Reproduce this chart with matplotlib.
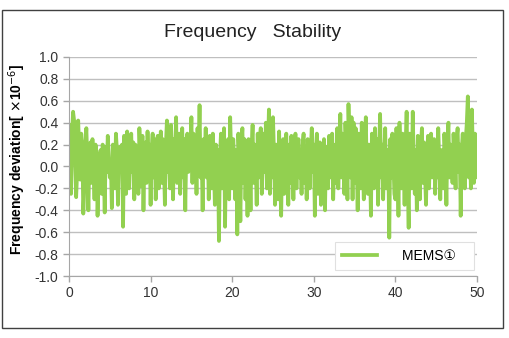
import numpy as np
import matplotlib.pyplot as plt
from matplotlib.patches import Rectangle

plt.rcParams['font.family'] = ['Liberation Sans', 'DejaVu Sans', 'Noto Sans CJK SC']

# frequency deviation (x1e-6), 8 samples per time unit, 40 per row of 5 units
deviation = [
    # 0 - 5
    0.38, 0.10, -0.25, 0.30, 0.50, 0.42, 0.05, -0.28, -0.05, 0.42,
    0.15, -0.12, 0.30, 0.20, -0.43, -0.20, 0.18, 0.35, 0.05, -0.40,
    0.10, 0.22, -0.15, 0.25, 0.00, -0.30, 0.20, 0.12, -0.45, -0.10,
    0.05, 0.15, -0.25, 0.20, 0.00, -0.42, 0.18, -0.05, 0.28, 0.10,
    # 5 - 10
    -0.10, 0.05, -0.38, 0.20, 0.00, -0.20, 0.30, 0.15, -0.35, 0.08,
    0.18, -0.05, 0.20, -0.55, 0.28, 0.12, -0.25, 0.32, 0.10, -0.20,
    0.05, 0.30, -0.05, 0.22, -0.30, 0.20, 0.05, 0.15, -0.25, 0.35,
    0.10, -0.18, 0.28, -0.40, 0.10, 0.22, -0.15, 0.32, 0.00, 0.20,
    # 10 - 15
    -0.35, 0.15, 0.30, -0.10, 0.25, -0.30, 0.00, 0.28, -0.20, 0.10,
    0.32, -0.15, 0.25, 0.05, -0.35, 0.20, 0.42, -0.05, 0.15, -0.20,
    0.38, 0.10, -0.30, 0.25, 0.05, 0.45, -0.15, 0.20, 0.30, -0.25,
    0.05, 0.35, -0.10, 0.25, -0.40, 0.15, 0.30, -0.05, 0.20, 0.10,
    # 15 - 20
    0.45, -0.15, 0.30, 0.05, 0.25, -0.25, 0.35, 0.10, 0.56, -0.10,
    0.15, -0.40, 0.25, 0.05, 0.35, -0.10, 0.20, -0.30, 0.28, 0.10,
    -0.20, 0.30, 0.05, -0.35, 0.20, -0.10, 0.15, -0.68, 0.10, 0.30,
    -0.20, 0.05, 0.35, -0.55, 0.15, -0.10, 0.25, -0.30, 0.45, 0.10,
    # 20 - 25
    -0.20, 0.25, 0.05, -0.30, 0.15, -0.62, 0.30, 0.05, -0.50, 0.20,
    0.35, -0.15, 0.25, -0.30, 0.10, -0.45, 0.25, 0.05, -0.40, 0.15,
    0.38, -0.15, 0.20, 0.05, -0.35, 0.30, -0.10, 0.25, 0.35, -0.25,
    0.10, 0.30, -0.05, 0.40, -0.20, 0.15, 0.52, -0.25, 0.30, -0.10,
    # 25 - 30
    0.45, 0.10, -0.35, 0.20, 0.05, -0.30, 0.32, -0.10, -0.45, 0.15,
    0.25, -0.25, 0.10, 0.30, -0.05, -0.35, 0.20, -0.15, 0.28, 0.05,
    -0.30, 0.10, 0.30, -0.20, 0.15, 0.25, -0.10, 0.05, -0.25, 0.20,
    0.30, -0.15, 0.10, -0.30, 0.25, 0.05, -0.20, 0.15, 0.35, -0.05,
    # 30 - 35
    0.20, -0.45, 0.15, 0.30, -0.25, 0.05, 0.22, -0.35, 0.10, -0.15,
    0.25, -0.40, 0.18, 0.05, -0.20, 0.28, -0.10, 0.15, 0.30, -0.30,
    0.05, 0.20, -0.15, 0.35, -0.20, 0.10, 0.48, -0.10, 0.30, 0.05,
    -0.25, 0.40, 0.15, -0.30, 0.57, 0.20, -0.10, 0.45, -0.30, 0.40,
    # 35 - 40
    -0.15, 0.35, 0.10, -0.40, 0.30, -0.05, -0.20, 0.40, 0.05, -0.30,
    0.25, 0.45, -0.10, -0.25, 0.20, 0.05, -0.45, 0.30, 0.10, -0.20,
    0.35, -0.05, 0.25, -0.35, 0.15, 0.48, -0.10, 0.20, -0.30, 0.10,
    0.35, -0.20, 0.15, 0.05, -0.65, 0.25, -0.10, 0.30, 0.05, -0.25,
    # 40 - 45
    -0.30, 0.35, 0.10, -0.45, 0.40, 0.05, -0.20, 0.30, 0.10, -0.35,
    0.20, 0.50, -0.10, -0.56, 0.30, 0.15, -0.20, 0.50, 0.05, -0.25,
    0.15, -0.40, 0.28, 0.05, -0.30, 0.20, 0.35, -0.15, 0.22, -0.05,
    -0.35, 0.10, 0.28, -0.20, 0.15, 0.30, -0.10, 0.05, 0.25, -0.25,
    # 45 - 50
    0.20, -0.10, 0.35, 0.05, -0.30, 0.15, 0.05, -0.20, 0.30, 0.10,
    -0.35, 0.25, 0.40, -0.10, 0.20, 0.05, -0.15, 0.30, 0.10, -0.20,
    0.25, 0.35, -0.05, 0.20, -0.45, 0.15, 0.30, 0.05, -0.20, 0.25,
    0.40, 0.64, -0.10, 0.25, -0.20, 0.52, 0.10, -0.15, 0.30, -0.10,
    0.25,
]
time = np.linspace(0, 50, len(deviation))

x_ticks = [0, 10, 20, 30, 40, 50]
y_ticks = [-1.0, -0.8, -0.6, -0.4, -0.2, 0.0, 0.2, 0.4, 0.6, 0.8, 1.0]

fig = plt.figure(figsize=(5.1, 3.38), dpi=100, facecolor='white')
fig.patches.append(Rectangle((0.004, 0.03), 0.982, 0.94, transform=fig.transFigure,
                             fill=False, edgecolor='#404040', linewidth=1.0))

ax = fig.add_axes([0.1353, 0.1834, 0.8, 0.648])
ax.plot(time, deviation, color='#92D050', linewidth=2.7, label='MEMS①   ')

ax.set_xlim(0, 50)
ax.set_ylim(-1.0, 1.0)
ax.set_xticks(x_ticks)
ax.set_yticks(y_ticks)
ax.set_yticklabels([f'{v:.1f}' for v in y_ticks])
ax.yaxis.grid(True, color='#BFBFBF', linewidth=1.0)
ax.set_axisbelow(True)

for side in ['top', 'right']:
    ax.spines[side].set_visible(False)
ax.spines['left'].set_color('#A6A6A6')
ax.spines['bottom'].set_color('#A6A6A6')
ax.tick_params(axis='both', colors='#A6A6A6', labelcolor='#333333',
               labelsize=10, length=4, width=1)

ax.set_ylabel(r'Frequency deviation[ $\times$10$^{-6}$]', fontsize=10,
              fontweight='bold')
ax.yaxis.set_label_coords(-0.1, 0.53)

fig.text(0.496, 0.905, 'Frequency   Stability', ha='center', va='center',
         fontsize=14, color='#222222')

leg = ax.legend(loc='lower right', bbox_to_anchor=(0.993, 0.027), fontsize=10,
                handlelength=2.5, handletextpad=1.8, borderpad=0.5,
                borderaxespad=0, fancybox=False, framealpha=1,
                edgecolor='#E0E0E0')
leg.get_frame().set_linewidth(0.8)

fig.savefig('out.png', dpi=100)
